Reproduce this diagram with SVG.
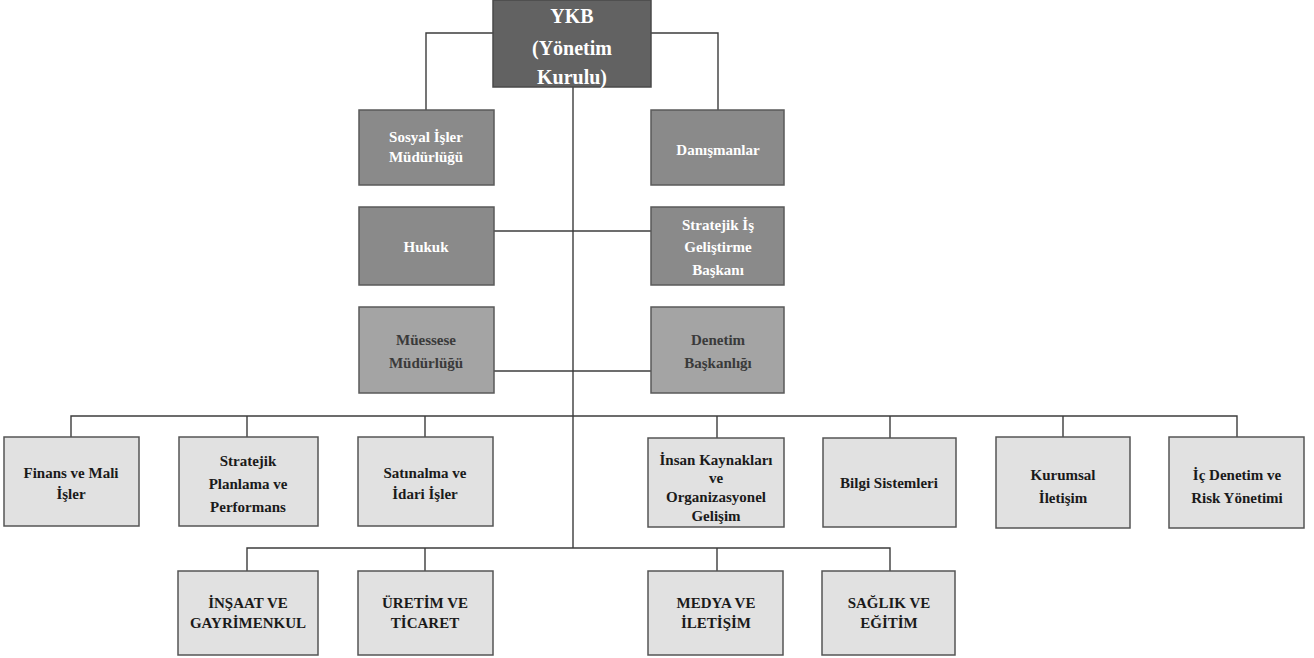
<svg xmlns="http://www.w3.org/2000/svg" width="1314" height="658" viewBox="0 0 1314 658">
<style>
text{font-family:"Liberation Serif","Times New Roman",serif;font-weight:bold;font-size:15px;text-anchor:middle}
.top rect{fill:#626262;stroke:#4a4a4a;stroke-width:1.5}
.top text{fill:#fff;font-size:20px}
.mid rect{fill:#8a8a8a;stroke:#5a5a5a;stroke-width:1.5}
.mid text{fill:#fff;font-size:15px}
.lt rect{fill:#a4a4a4;stroke:#5a5a5a;stroke-width:1.5}
.lt text{fill:#3a3a3a;font-size:15px}
.low rect{fill:#e1e1e1;stroke:#555;stroke-width:1.5}
.low text{fill:#1a1a1a}
#connectors path{fill:none;stroke:#3c3c3c;stroke-width:1.4}
</style>
<rect width="1314" height="658" fill="#fff"/>
<g id="connectors">
<path d="M493 33H426V110"/>
<path d="M651 33H718V110"/>
<path d="M573 87V548"/>
<path d="M493 231H651"/>
<path d="M493 371H651"/>
<path d="M71 437V416H1237V437"/>
<path d="M247 416V437M425 416V437M717 416V438M890 416V438M1063 416V437"/>
<path d="M247 571V548H890V571"/>
<path d="M425 548V571M717 548V571"/>
</g>
<g id="ykb" class="top"><rect x="493" y="0" width="158" height="87"/><text x="572" y="23">YKB</text><text x="572" y="55">(Yönetim</text><text x="572" y="84">Kurulu)</text></g>
<g id="sosyal" class="mid"><rect x="359" y="110" width="135" height="75"/><text x="426" y="142">Sosyal İşler</text><text x="426" y="162">Müdürlüğü</text></g>
<g id="danismanlar" class="mid"><rect x="651" y="110" width="133" height="75"/><text x="718" y="155">Danışmanlar</text></g>
<g id="hukuk" class="mid"><rect x="359" y="207" width="135" height="78"/><text x="426" y="252">Hukuk</text></g>
<g id="stratejik-is" class="mid"><rect x="651" y="207" width="133" height="78"/><text x="718" y="230">Stratejik İş</text><text x="718" y="252">Geliştirme</text><text x="718" y="275">Başkanı</text></g>
<g id="muessese" class="lt"><rect x="359" y="307" width="135" height="86"/><text x="426" y="345">Müessese</text><text x="426" y="368">Müdürlüğü</text></g>
<g id="denetim" class="lt"><rect x="651" y="307" width="133" height="86"/><text x="718" y="345">Denetim</text><text x="718" y="368">Başkanlığı</text></g>
<g id="finans" class="low"><rect x="4" y="437" width="135" height="89"/><text x="71" y="478">Finans ve Mali</text><text x="71" y="499">İşler</text></g>
<g id="planlama" class="low"><rect x="179" y="437" width="139" height="89"/><text x="248" y="466">Stratejik</text><text x="248" y="489">Planlama ve</text><text x="248" y="512">Performans</text></g>
<g id="satinalma" class="low"><rect x="358" y="437" width="135" height="89"/><text x="425" y="478">Satınalma ve</text><text x="425" y="499">İdari İşler</text></g>
<g id="insan" class="low"><rect x="648" y="438" width="136" height="89"/><text x="716" y="465">İnsan Kaynakları</text><text x="716" y="483">ve</text><text x="716" y="502">Organizasyonel</text><text x="716" y="521">Gelişim</text></g>
<g id="bilgi" class="low"><rect x="823" y="438" width="133" height="89"/><text x="889" y="488">Bilgi Sistemleri</text></g>
<g id="kurumsal" class="low"><rect x="996" y="437" width="134" height="91"/><text x="1063" y="480">Kurumsal</text><text x="1063" y="503">İletişim</text></g>
<g id="icdenetim" class="low"><rect x="1169" y="437" width="135" height="91"/><text x="1237" y="480">İç Denetim ve</text><text x="1237" y="503">Risk Yönetimi</text></g>
<g id="insaat" class="low"><rect x="178" y="571" width="140" height="84"/><text x="248" y="608">İNŞAAT VE</text><text x="248" y="628">GAYRİMENKUL</text></g>
<g id="uretim" class="low"><rect x="358" y="571" width="135" height="84"/><text x="425" y="608">ÜRETİM VE</text><text x="425" y="628">TİCARET</text></g>
<g id="medya" class="low"><rect x="648" y="571" width="135" height="84"/><text x="716" y="608">MEDYA VE</text><text x="716" y="628">İLETİŞİM</text></g>
<g id="saglik" class="low"><rect x="822" y="571" width="133" height="84"/><text x="889" y="608">SAĞLIK VE</text><text x="889" y="628">EĞİTİM</text></g>
</svg>
